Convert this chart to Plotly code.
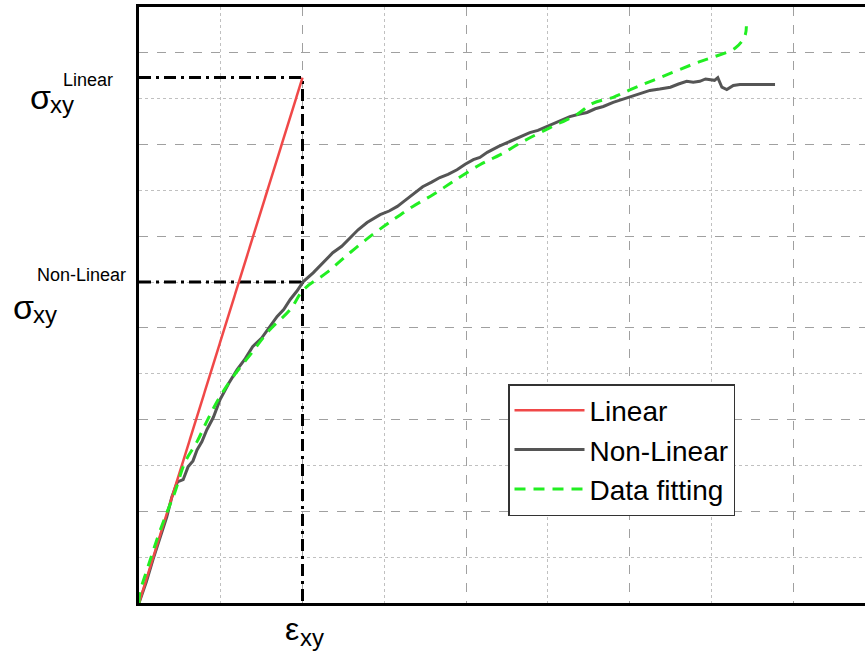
import plotly.graph_objects as go

# ---------------- data (grid units) ----------------
linear_x = [0.0, 2.0]
linear_y = [0.0, 11.46]

nonlinear_x = [0.0, 0.09, 0.17, 0.26, 0.34, 0.40, 0.47, 0.54, 0.60, 0.66, 0.71, 0.77, 0.83,
               0.91, 0.99, 1.10, 1.20, 1.30, 1.39, 1.50, 1.60, 1.69, 1.77, 1.85, 1.93, 2.01,
               2.13, 2.25, 2.37, 2.48, 2.58, 2.68, 2.79, 2.87, 2.95, 3.06, 3.16, 3.24, 3.32,
               3.40, 3.47, 3.58, 3.68, 3.78, 3.89, 3.99, 4.09, 4.17, 4.26, 4.40, 4.54, 4.66,
               4.78, 4.88, 4.99, 5.13, 5.27, 5.38, 5.48, 5.58, 5.68, 5.80, 5.90, 6.01, 6.13,
               6.25, 6.37, 6.50, 6.60, 6.70, 6.78, 6.86, 6.93, 6.99, 7.04, 7.08, 7.13, 7.19,
               7.27, 7.35, 7.78]
nonlinear_y = [0.0, 0.46, 0.94, 1.44, 1.88, 2.30, 2.64, 2.69, 2.97, 3.10, 3.34, 3.52, 3.78,
               4.05, 4.43, 4.80, 5.09, 5.33, 5.59, 5.78, 6.03, 6.25, 6.40, 6.62, 6.80, 7.01,
               7.20, 7.42, 7.64, 7.78, 7.97, 8.14, 8.30, 8.38, 8.47, 8.55, 8.65, 8.76, 8.87,
               8.98, 9.08, 9.18, 9.28, 9.35, 9.45, 9.57, 9.67, 9.72, 9.83, 9.96, 10.07, 10.15,
               10.26, 10.31, 10.39, 10.50, 10.61, 10.66, 10.70, 10.78, 10.83, 10.92, 10.98,
               11.05, 11.12, 11.18, 11.21, 11.25, 11.32, 11.38, 11.36, 11.38, 11.43, 11.42,
               11.40, 11.46, 11.25, 11.20, 11.29, 11.31, 11.31]

fit_x = [0.0, 0.01, 0.11, 0.23, 0.34, 0.44, 0.56, 0.71, 0.84, 0.99, 1.17, 1.38, 1.60, 1.85,
         2.01, 2.30, 2.58, 2.86, 3.11, 3.35, 3.60, 3.84, 4.17, 4.42, 4.70, 5.03, 5.36, 5.55,
         5.80, 6.04, 6.29, 6.86, 7.01, 7.29, 7.41, 7.43]
fit_y = [0.0, 0.22, 0.79, 1.44, 1.97, 2.42, 3.06, 3.52, 4.00, 4.50, 4.98, 5.46, 5.96, 6.40,
         6.83, 7.21, 7.64, 8.04, 8.36, 8.65, 8.91, 9.19, 9.56, 9.78, 10.07, 10.37, 10.66,
         10.90, 11.03, 11.22, 11.40, 11.81, 11.90, 12.10, 12.36, 12.58]

eps_point = 2.0
sigma_linear = 11.46
sigma_nonlinear = 7.0

# ---------------- layout geometry ----------------
W, H = 865, 655
L, T, B = 139, 7, 603
R = 865
x_max = (R - L) / 81.75
y_max = 13


def px(xp):
    return (xp - L) / (R - L)


def py(yp):
    return (B - yp) / (B - T)


FONT = "Liberation Sans, Arial, sans-serif"
DASHDOT = "12px,5px,3px,5px"

fig = go.Figure()

fig.add_trace(go.Scatter(x=[0, eps_point, eps_point], y=[sigma_linear, sigma_linear, 0],
                         mode="lines", line=dict(color="black", width=3, dash=DASHDOT),
                         showlegend=False, hoverinfo="skip"))
fig.add_trace(go.Scatter(x=[0, eps_point], y=[sigma_nonlinear, sigma_nonlinear],
                         mode="lines", line=dict(color="black", width=3, dash=DASHDOT),
                         showlegend=False, hoverinfo="skip"))
fig.add_trace(go.Scatter(x=nonlinear_x, y=nonlinear_y, mode="lines", name="Non-Linear",
                         line=dict(color="#555555", width=3), legendrank=2))
fig.add_trace(go.Scatter(x=linear_x, y=linear_y, mode="lines", name="Linear",
                         line=dict(color="#f04848", width=2.5), legendrank=1))
fig.add_trace(go.Scatter(x=fit_x, y=fit_y, mode="lines", name="Data fitting",
                         line=dict(color="#22ee22", width=3, dash="11px,8px", shape="spline"),
                         legendrank=3))

fig.update_layout(
    width=W, height=H,
    margin=dict(l=L, r=W - R, t=T, b=H - B, pad=0),
    paper_bgcolor="white", plot_bgcolor="white",
    font=dict(family=FONT, color="black"),
    legend=dict(x=px(508), y=py(384), xanchor="left", yanchor="top",
                bordercolor="#333333", borderwidth=1.5, bgcolor="white",
                font=dict(size=28, family=FONT, color="black"),
                itemwidth=70, tracegroupgap=0),
)

fig.update_xaxes(range=[0, x_max], showticklabels=False, ticks="",
                 showline=True, linecolor="black", linewidth=3, mirror=True,
                 dtick=2, showgrid=True, gridcolor="#a0a0a0", griddash="dash", gridwidth=1,
                 minor=dict(dtick=1, showgrid=True, gridcolor="#c0c0c0", griddash="dot", gridwidth=1),
                 zeroline=False)
fig.update_yaxes(range=[0, y_max], showticklabels=False, ticks="",
                 showline=True, linecolor="black", linewidth=3, mirror=False,
                 dtick=2, showgrid=True, gridcolor="#a0a0a0", griddash="dash", gridwidth=1,
                 minor=dict(dtick=1, showgrid=True, gridcolor="#c0c0c0", griddash="dot", gridwidth=1),
                 zeroline=False)


def ann(text, xp, yp, size):
    fig.add_annotation(text=text, x=px(xp), y=py(yp), xref="paper", yref="paper",
                       xanchor="center", yanchor="middle", showarrow=False,
                       font=dict(size=size, family=FONT, color="black"))


# sigma_xy ^ Linear
ann("Linear", 88, 80, 18)
ann("σ", 40, 97, 34)
ann("xy", 62, 104, 24)
# sigma_xy ^ Non-Linear
ann("Non-Linear", 81, 275, 18)
ann("σ", 23, 307, 34)
ann("xy", 45, 314, 24)
# epsilon_xy
ann("ε", 292, 629, 32)
ann("xy", 312, 637, 24)

fig.write_html("out.html", config={"displayModeBar": False},
               post_script="document.body.style.margin='0';")
